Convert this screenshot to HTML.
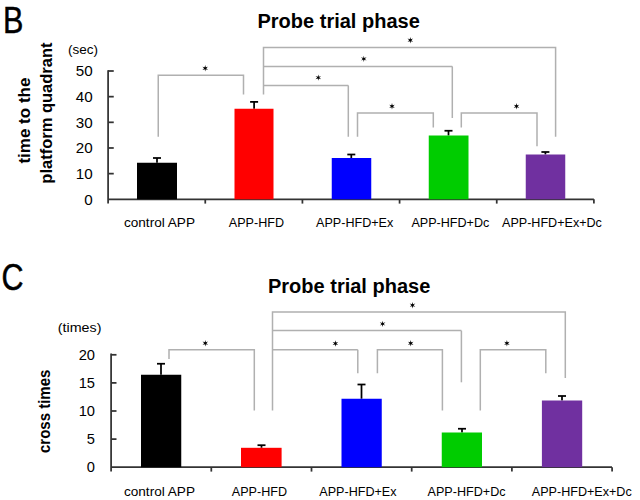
<!DOCTYPE html>
<html><head><meta charset="utf-8"><style>
html,body{margin:0;padding:0;background:#fff;width:640px;height:500px;overflow:hidden}
svg{display:block}
text{font-family:"Liberation Sans",sans-serif;fill:#000}
</style></head><body>
<svg width="640" height="500" viewBox="0 0 640 500">
<rect width="640" height="500" fill="#fff"/>
<text x="2.9" y="33.2" font-size="36.0" textLength="20.4" lengthAdjust="spacingAndGlyphs" text-anchor="start" stroke="#000" stroke-width="0.45">B</text>
<text x="257.5" y="28.4" font-size="20" font-weight="bold" text-anchor="start">Probe trial phase</text>
<text transform="translate(30.0,163.6) rotate(-90)" x="0" y="0" font-size="16.5" font-weight="bold" textLength="86" lengthAdjust="spacingAndGlyphs">time to the</text>
<text transform="translate(52,183.7) rotate(-90)" x="0" y="0" font-size="16.5" font-weight="bold">platform quadrant</text>
<text x="68" y="54.2" font-size="13.5" text-anchor="start">(sec)</text>
<text x="92.6" y="204.75" font-size="15.2" text-anchor="end">0</text>
<text x="92.6" y="179.09" font-size="15.2" text-anchor="end">10</text>
<line x1="108" y1="173.64000000000001" x2="113.75" y2="173.64000000000001" stroke="#333333" stroke-width="1.75"/>
<text x="92.6" y="153.43" font-size="15.2" text-anchor="end">20</text>
<line x1="108" y1="147.98000000000002" x2="113.75" y2="147.98000000000002" stroke="#333333" stroke-width="1.75"/>
<text x="92.6" y="127.77000000000001" font-size="15.2" text-anchor="end">30</text>
<line x1="108" y1="122.32000000000001" x2="113.75" y2="122.32000000000001" stroke="#333333" stroke-width="1.75"/>
<text x="92.6" y="102.11000000000001" font-size="15.2" text-anchor="end">40</text>
<line x1="108" y1="96.66000000000001" x2="113.75" y2="96.66000000000001" stroke="#333333" stroke-width="1.75"/>
<text x="92.6" y="76.45" font-size="15.2" text-anchor="end">50</text>
<line x1="108" y1="71.0" x2="113.75" y2="71.0" stroke="#333333" stroke-width="1.75"/>
<line x1="108.1" y1="70.2" x2="108.1" y2="203.6" stroke="#333333" stroke-width="1.75"/>
<line x1="108" y1="199.3" x2="593.9" y2="199.3" stroke="#333333" stroke-width="1.75"/>
<line x1="205.26" y1="199.3" x2="205.26" y2="203.6" stroke="#333333" stroke-width="1.75"/>
<line x1="302.41999999999996" y1="199.3" x2="302.41999999999996" y2="203.6" stroke="#333333" stroke-width="1.75"/>
<line x1="399.58000000000004" y1="199.3" x2="399.58000000000004" y2="203.6" stroke="#333333" stroke-width="1.75"/>
<line x1="496.74" y1="199.3" x2="496.74" y2="203.6" stroke="#333333" stroke-width="1.75"/>
<line x1="593.9" y1="199.3" x2="593.9" y2="203.6" stroke="#333333" stroke-width="1.75"/>
<line x1="157" y1="162.75" x2="157" y2="158" stroke="#000" stroke-width="1.75"/>
<line x1="153" y1="158" x2="161" y2="158" stroke="#000" stroke-width="1.75"/>
<rect x="137" y="162.75" width="40.00" height="36.55" fill="#000000"/>
<line x1="254.1" y1="108.75" x2="254.1" y2="101.9" stroke="#000" stroke-width="1.75"/>
<line x1="250.1" y1="101.9" x2="258.1" y2="101.9" stroke="#000" stroke-width="1.75"/>
<rect x="234.5" y="108.75" width="39.00" height="90.55" fill="#FF0000"/>
<line x1="351.3" y1="158" x2="351.3" y2="154.5" stroke="#000" stroke-width="1.75"/>
<line x1="347.3" y1="154.5" x2="355.3" y2="154.5" stroke="#000" stroke-width="1.75"/>
<rect x="331.75" y="158" width="39.50" height="41.30" fill="#0000FF"/>
<line x1="448.5" y1="135.5" x2="448.5" y2="130.75" stroke="#000" stroke-width="1.75"/>
<line x1="444.5" y1="130.75" x2="452.5" y2="130.75" stroke="#000" stroke-width="1.75"/>
<rect x="428.75" y="135.5" width="39.75" height="63.80" fill="#00CC00"/>
<line x1="545.4" y1="154.5" x2="545.4" y2="152" stroke="#000" stroke-width="1.75"/>
<line x1="541.4" y1="152" x2="549.4" y2="152" stroke="#000" stroke-width="1.75"/>
<rect x="525.75" y="154.5" width="39.50" height="44.80" fill="#7030A0"/>
<polyline points="158.25,136.75 158.25,75.25 243.5,75.25 243.5,94.5" fill="none" stroke="#B0B0B0" stroke-width="1.5"/>
<polygon points="205.20,65.10 205.75,67.35 207.97,66.70 206.30,68.30 207.97,69.90 205.75,69.25 205.20,71.50 204.65,69.25 202.43,69.90 204.10,68.30 202.43,66.70 204.65,67.35" fill="#000"/>
<polyline points="263.5,94.5 263.5,47.4 555.6,47.4 555.6,136.75" fill="none" stroke="#B0B0B0" stroke-width="1.5"/>
<line x1="263.5" y1="66.4" x2="452.3" y2="66.4" stroke="#B0B0B0" stroke-width="1.5"/>
<line x1="452.3" y1="66.4" x2="452.3" y2="118" stroke="#B0B0B0" stroke-width="1.5"/>
<line x1="263.5" y1="85.4" x2="348.3" y2="85.4" stroke="#B0B0B0" stroke-width="1.5"/>
<line x1="348.3" y1="85.4" x2="348.3" y2="136.75" stroke="#B0B0B0" stroke-width="1.5"/>
<polygon points="410.30,37.00 410.85,39.25 413.07,38.60 411.40,40.20 413.07,41.80 410.85,41.15 410.30,43.40 409.75,41.15 407.53,41.80 409.20,40.20 407.53,38.60 409.75,39.25" fill="#000"/>
<polygon points="363.80,55.70 364.35,57.95 366.57,57.30 364.90,58.90 366.57,60.50 364.35,59.85 363.80,62.10 363.25,59.85 361.03,60.50 362.70,58.90 361.03,57.30 363.25,57.95" fill="#000"/>
<polygon points="318.30,74.40 318.85,76.65 321.07,76.00 319.40,77.60 321.07,79.20 318.85,78.55 318.30,80.80 317.75,78.55 315.53,79.20 317.20,77.60 315.53,76.00 317.75,76.65" fill="#000"/>
<polyline points="357.5,136.75 357.5,113 433.3,113 433.3,127.5" fill="none" stroke="#B0B0B0" stroke-width="1.5"/>
<polygon points="392.00,103.10 392.55,105.35 394.77,104.70 393.10,106.30 394.77,107.90 392.55,107.25 392.00,109.50 391.45,107.25 389.23,107.90 390.90,106.30 389.23,104.70 391.45,105.35" fill="#000"/>
<polyline points="461.3,127.5 461.3,113 537,113 537,146.3" fill="none" stroke="#B0B0B0" stroke-width="1.5"/>
<polygon points="516.50,103.10 517.05,105.35 519.27,104.70 517.60,106.30 519.27,107.90 517.05,107.25 516.50,109.50 515.95,107.25 513.73,107.90 515.40,106.30 513.73,104.70 515.95,105.35" fill="#000"/>
<text x="123.95" y="227.25" font-size="13.6" text-anchor="start">control APP</text>
<text x="228.79999999999998" y="227.25" font-size="13.6" textLength="55.2" lengthAdjust="spacingAndGlyphs" text-anchor="start">APP-HFD</text>
<text x="316.05" y="227.25" font-size="13.6" textLength="77.2" lengthAdjust="spacingAndGlyphs" text-anchor="start">APP-HFD+Ex</text>
<text x="411.40000000000003" y="227.25" font-size="13.6" textLength="77.9" lengthAdjust="spacingAndGlyphs" text-anchor="start">APP-HFD+Dc</text>
<text x="502.0" y="227.25" font-size="13.6" textLength="99.9" lengthAdjust="spacingAndGlyphs" text-anchor="start">APP-HFD+Ex+Dc</text>
<text x="1.6" y="290.0" font-size="37.3" textLength="22.0" lengthAdjust="spacingAndGlyphs" text-anchor="start" stroke="#000" stroke-width="0.5">C</text>
<text x="268" y="293.1" font-size="20" font-weight="bold" text-anchor="start">Probe trial phase</text>
<text transform="translate(49.6,453) rotate(-90)" x="0" y="0" font-size="16" font-weight="bold" textLength="83.4" lengthAdjust="spacingAndGlyphs">cross times</text>
<text x="57.8" y="332.3" font-size="13.6" textLength="43.6" lengthAdjust="spacingAndGlyphs" text-anchor="start">(times)</text>
<text x="95" y="472.45" font-size="14.7" text-anchor="end">0</text>
<text x="95" y="444.34999999999997" font-size="14.7" text-anchor="end">5</text>
<line x1="111" y1="439.09999999999997" x2="116.5" y2="439.09999999999997" stroke="#333333" stroke-width="1.75"/>
<text x="95" y="416.25" font-size="14.7" text-anchor="end">10</text>
<line x1="111" y1="411.0" x2="116.5" y2="411.0" stroke="#333333" stroke-width="1.75"/>
<text x="95" y="388.15" font-size="14.7" text-anchor="end">15</text>
<line x1="111" y1="382.9" x2="116.5" y2="382.9" stroke="#333333" stroke-width="1.75"/>
<text x="95" y="360.04999999999995" font-size="14.7" text-anchor="end">20</text>
<line x1="111" y1="354.79999999999995" x2="116.5" y2="354.79999999999995" stroke="#333333" stroke-width="1.75"/>
<line x1="111.1" y1="353.6" x2="111.1" y2="471.6" stroke="#333333" stroke-width="1.75"/>
<line x1="111" y1="467.2" x2="612" y2="467.2" stroke="#333333" stroke-width="1.75"/>
<line x1="211.3" y1="467.2" x2="211.3" y2="471.6" stroke="#333333" stroke-width="1.75"/>
<line x1="311.5" y1="467.2" x2="311.5" y2="471.6" stroke="#333333" stroke-width="1.75"/>
<line x1="411.70000000000005" y1="467.2" x2="411.70000000000005" y2="471.6" stroke="#333333" stroke-width="1.75"/>
<line x1="511.9" y1="467.2" x2="511.9" y2="471.6" stroke="#333333" stroke-width="1.75"/>
<line x1="612.1" y1="467.2" x2="612.1" y2="471.6" stroke="#333333" stroke-width="1.75"/>
<line x1="161" y1="374.75" x2="161" y2="363.75" stroke="#000" stroke-width="1.75"/>
<line x1="157" y1="363.75" x2="165" y2="363.75" stroke="#000" stroke-width="1.75"/>
<rect x="141" y="374.75" width="40.25" height="92.45" fill="#000000"/>
<line x1="261.5" y1="447.8" x2="261.5" y2="445.2" stroke="#000" stroke-width="1.75"/>
<line x1="257.5" y1="445.2" x2="265.5" y2="445.2" stroke="#000" stroke-width="1.75"/>
<rect x="241" y="447.8" width="40.60" height="19.40" fill="#FF0000"/>
<line x1="361.5" y1="398.75" x2="361.5" y2="384.5" stroke="#000" stroke-width="1.75"/>
<line x1="357.5" y1="384.5" x2="365.5" y2="384.5" stroke="#000" stroke-width="1.75"/>
<rect x="341.5" y="398.75" width="40.25" height="68.45" fill="#0000FF"/>
<line x1="462" y1="432.5" x2="462" y2="428.75" stroke="#000" stroke-width="1.75"/>
<line x1="458" y1="428.75" x2="466" y2="428.75" stroke="#000" stroke-width="1.75"/>
<rect x="441.75" y="432.5" width="40.25" height="34.70" fill="#00CC00"/>
<line x1="562" y1="400.5" x2="562" y2="396" stroke="#000" stroke-width="1.75"/>
<line x1="558" y1="396" x2="566" y2="396" stroke="#000" stroke-width="1.75"/>
<rect x="541.9" y="400.5" width="40.30" height="66.70" fill="#7030A0"/>
<polyline points="169,359 169,349.7 254.3,349.7 254.3,410.5" fill="none" stroke="#B0B0B0" stroke-width="1.5"/>
<polygon points="205.30,340.00 205.85,342.25 208.07,341.60 206.40,343.20 208.07,344.80 205.85,344.15 205.30,346.40 204.75,344.15 202.53,344.80 204.20,343.20 202.53,341.60 204.75,342.25" fill="#000"/>
<polyline points="272.5,410.4 272.5,312.1 565.3,312.1 565.3,377.9" fill="none" stroke="#B0B0B0" stroke-width="1.5"/>
<line x1="272.5" y1="330.6" x2="461.4" y2="330.6" stroke="#B0B0B0" stroke-width="1.5"/>
<line x1="461.4" y1="330.6" x2="461.4" y2="382.3" stroke="#B0B0B0" stroke-width="1.5"/>
<line x1="272.5" y1="349.8" x2="357.8" y2="349.8" stroke="#B0B0B0" stroke-width="1.5"/>
<line x1="357.8" y1="349.8" x2="357.8" y2="373.2" stroke="#B0B0B0" stroke-width="1.5"/>
<polygon points="412.50,302.00 413.05,304.25 415.27,303.60 413.60,305.20 415.27,306.80 413.05,306.15 412.50,308.40 411.95,306.15 409.73,306.80 411.40,305.20 409.73,303.60 411.95,304.25" fill="#000"/>
<polygon points="382.60,320.70 383.15,322.95 385.37,322.30 383.70,323.90 385.37,325.50 383.15,324.85 382.60,327.10 382.05,324.85 379.83,325.50 381.50,323.90 379.83,322.30 382.05,322.95" fill="#000"/>
<polygon points="335.40,340.30 335.95,342.55 338.17,341.90 336.50,343.50 338.17,345.10 335.95,344.45 335.40,346.70 334.85,344.45 332.63,345.10 334.30,343.50 332.63,341.90 334.85,342.55" fill="#000"/>
<polyline points="377.4,373.2 377.4,349.8 442.4,349.8 442.4,410.4" fill="none" stroke="#B0B0B0" stroke-width="1.5"/>
<polygon points="410.70,340.10 411.25,342.35 413.47,341.70 411.80,343.30 413.47,344.90 411.25,344.25 410.70,346.50 410.15,344.25 407.93,344.90 409.60,343.30 407.93,341.70 410.15,342.35" fill="#000"/>
<polyline points="480.3,410.4 480.3,349.8 545.8,349.8 545.8,373.2" fill="none" stroke="#B0B0B0" stroke-width="1.5"/>
<polygon points="506.90,340.10 507.45,342.35 509.67,341.70 508.00,343.30 509.67,344.90 507.45,344.25 506.90,346.50 506.35,344.25 504.13,344.90 505.80,343.30 504.13,341.70 506.35,342.35" fill="#000"/>
<text x="123.95" y="495.6" font-size="13.6" text-anchor="start">control APP</text>
<text x="231.85" y="495.6" font-size="13.6" textLength="55.2" lengthAdjust="spacingAndGlyphs" text-anchor="start">APP-HFD</text>
<text x="319.29999999999995" y="495.6" font-size="13.6" textLength="77.2" lengthAdjust="spacingAndGlyphs" text-anchor="start">APP-HFD+Ex</text>
<text x="427.59999999999997" y="495.6" font-size="13.6" textLength="77.9" lengthAdjust="spacingAndGlyphs" text-anchor="start">APP-HFD+Dc</text>
<text x="531.8000000000001" y="495.6" font-size="13.6" textLength="99.9" lengthAdjust="spacingAndGlyphs" text-anchor="start">APP-HFD+Ex+Dc</text>
</svg>
</body></html>
